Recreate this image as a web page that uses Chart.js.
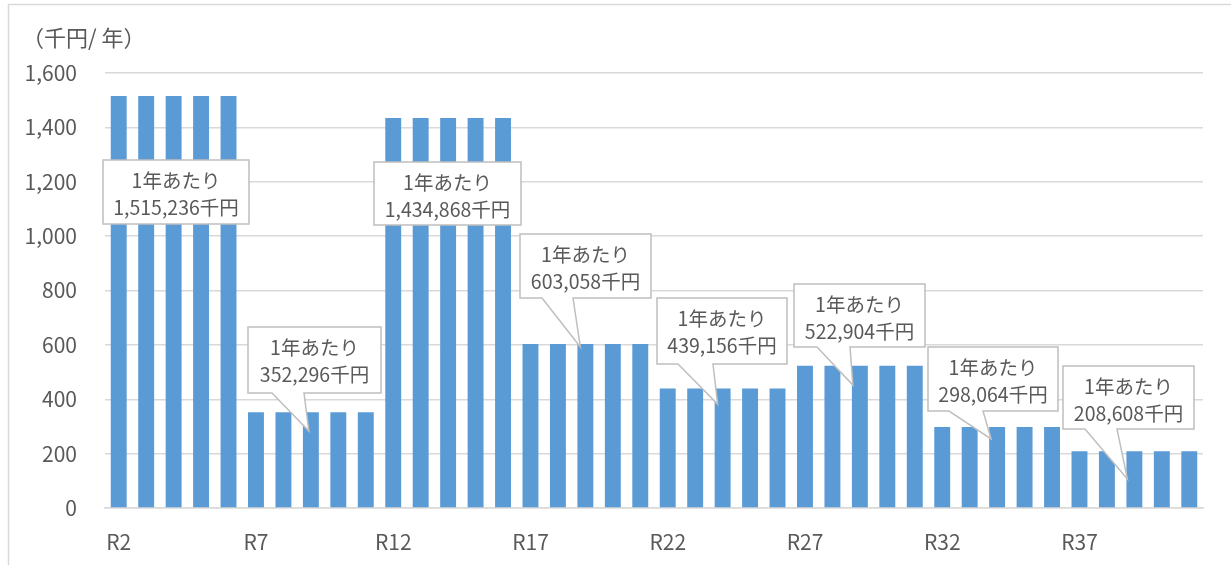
<!DOCTYPE html>
<html lang="ja">
<head>
<meta charset="utf-8">
<title>年度別費用</title>
<script src="https://cdn.jsdelivr.net/npm/chart.js@4.4.1/dist/chart.umd.min.js"></script>
<style>
  html, body { margin: 0; padding: 0; background: #fff; }
  #wrap { width: 1231px; height: 565px; position: relative; }
</style>
</head>
<body>
<div id="wrap"><canvas id="costChart" width="1231" height="565"></canvas></div>
<script>
// 年度ラベル（R2〜R41）
const years = [
  'R2', 'R3', 'R4', 'R5', 'R6', 'R7', 'R8', 'R9', 'R10', 'R11',
  'R12', 'R13', 'R14', 'R15', 'R16', 'R17', 'R18', 'R19', 'R20', 'R21',
  'R22', 'R23', 'R24', 'R25', 'R26', 'R27', 'R28', 'R29', 'R30', 'R31',
  'R32', 'R33', 'R34', 'R35', 'R36', 'R37', 'R38', 'R39', 'R40', 'R41'
];

// 各年度の費用（軸単位）
const costs = [
  1515.236, 1515.236, 1515.236, 1515.236, 1515.236,
  352.296, 352.296, 352.296, 352.296, 352.296,
  1434.868, 1434.868, 1434.868, 1434.868, 1434.868,
  603.058, 603.058, 603.058, 603.058, 603.058,
  439.156, 439.156, 439.156, 439.156, 439.156,
  522.904, 522.904, 522.904, 522.904, 522.904,
  298.064, 298.064, 298.064, 298.064, 298.064,
  208.608, 208.608, 208.608, 208.608, 208.608
];

// 目盛
const yTicks = [0, 200, 400, 600, 800, 1000, 1200, 1400, 1600];

const TEXT = '#595959';
const FONT = '"Noto Sans CJK JP", "Noto Sans", sans-serif';

// 吹き出し：表示する年度（金額は costs から）、枠の位置、矢印の先
const callouts = [
  { bar: 0,  box: [103, 160, 146, 64] },
  { bar: 5,  box: [248, 327, 133, 66], base: [272, 304], tip: { index: 7,  value: 283, dx: -2 } },
  { bar: 10, box: [374, 162, 147, 63] },
  { bar: 15, box: [520, 234, 131, 64], base: [542, 573], tip: { index: 17, value: 592, dx: -5 } },
  { bar: 20, box: [657, 298, 130, 66], base: [678, 713], tip: { index: 22, value: 382, dx: -5 } },
  { bar: 25, box: [794, 284, 131, 63], base: [817, 850], tip: { index: 27, value: 452, dx: -7 } },
  { bar: 30, box: [928, 347, 130, 64], base: [949, 983], tip: { index: 32, value: 254, dx: -6 } },
  { bar: 35, box: [1063, 366, 131, 63], base: [1085, 1117], tip: { index: 37, value: 107, dx: -7 } }
];

const frameAndNotes = {
  id: 'frameAndNotes',
  beforeDraw(chart) {
    const ctx = chart.ctx;
    ctx.save();
    ctx.strokeStyle = '#d9d9d9';
    ctx.lineWidth = 1.5;
    ctx.strokeRect(8.5, 4.5, 1400, 800);
    ctx.fillStyle = TEXT;
    ctx.font = '22px ' + FONT;
    ctx.textBaseline = 'middle';
    ctx.textAlign = 'left';
    ctx.fillText('（千円/ 年）', 22, 38);
    ctx.restore();
  },
  afterDatasetsDraw(chart) {
    const ctx = chart.ctx;
    const xs = chart.scales.x, ys = chart.scales.y;
    ctx.save();
    callouts.forEach(c => {
      const [l, t, w, h] = c.box;
      const r = l + w, b = t + h;
      ctx.beginPath();
      ctx.moveTo(l, t);
      ctx.lineTo(r, t);
      ctx.lineTo(r, b);
      if (c.tip) {
        const tx = xs.getPixelForValue(c.tip.index) + c.tip.dx;
        const ty = ys.getPixelForValue(c.tip.value);
        ctx.lineTo(c.base[1], b);
        ctx.lineTo(tx, ty);
        ctx.lineTo(c.base[0], b);
      }
      ctx.lineTo(l, b);
      ctx.closePath();
      ctx.fillStyle = '#ffffff';
      ctx.fill();
      ctx.strokeStyle = '#bfbfbf';
      ctx.lineWidth = 1.5;
      ctx.stroke();

      const amount = Math.round(costs[c.bar] * 1000).toLocaleString('en-US');
      ctx.fillStyle = TEXT;
      ctx.font = '19.5px ' + FONT;
      ctx.textAlign = 'center';
      ctx.textBaseline = 'middle';
      ctx.fillText('1年あたり', l + w / 2, t + 21);
      ctx.fillText(amount + '千円', l + w / 2, t + 48);
    });
    ctx.restore();
  }
};

const ctx = document.getElementById('costChart').getContext('2d');
const costChart = new Chart(ctx, {
  type: 'bar',
  data: {
    labels: years,
    datasets: [{
      data: costs,
      backgroundColor: '#5b9bd5',
      categoryPercentage: 1,
      barPercentage: 0.58
    }]
  },
  options: {
    responsive: false,
    animation: false,
    layout: { padding: { left: 0, right: 28, top: 73, bottom: 0 } },
    plugins: {
      legend: { display: false },
      tooltip: { enabled: false }
    },
    scales: {
      x: {
        grid: { display: false },
        border: { color: '#d9d9d9', width: 1.5 },
        afterFit(scale) { scale.height = 57; },
        ticks: {
          autoSkip: false,
          maxRotation: 0,
          padding: 13,
          color: TEXT,
          font: { family: FONT, size: 21 },
          callback(value, index) {
            return index % 5 === 0 ? years[index] : '';
          }
        }
      },
      y: {
        min: 0,
        max: 1600,
        afterFit(scale) { scale.width = 105; },
        afterBuildTicks(scale) {
          scale.ticks = yTicks.map(v => ({ value: v }));
        },
        border: { display: false },
        grid: { color: '#d9d9d9', lineWidth: 1.5, drawTicks: false },
        ticks: {
          padding: 28,
          color: TEXT,
          font: { family: FONT, size: 21 },
          callback(value) { return value.toLocaleString('en-US'); }
        }
      }
    }
  },
  plugins: [frameAndNotes]
});
</script>
</body>
</html>
